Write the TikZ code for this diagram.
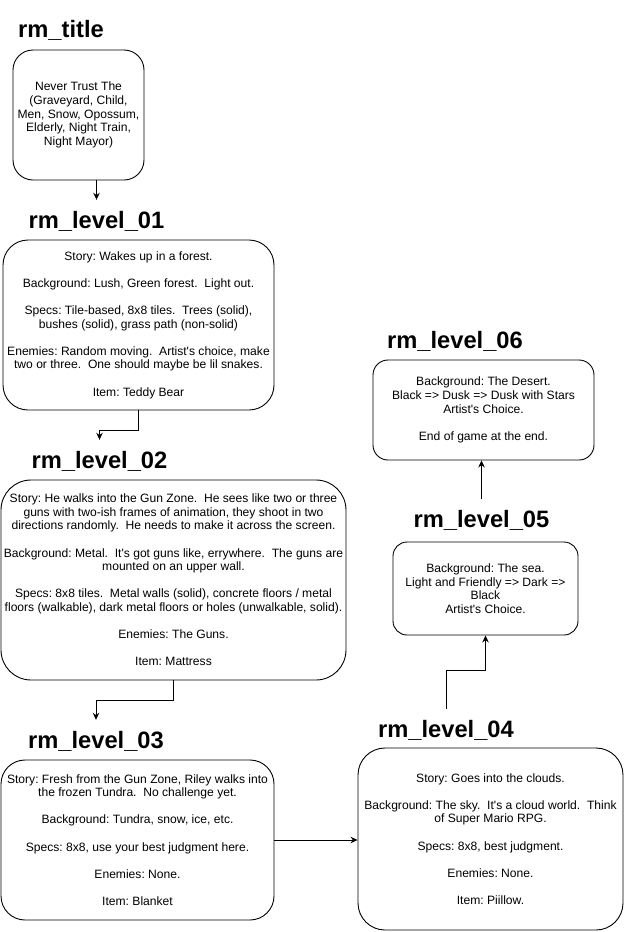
\documentclass[tikz,border=0pt]{standalone}
\usepackage{fontspec}
\newfontfamily\bodyfont{Liberation Sans}
\usetikzlibrary{arrows.meta,calc}
\tikzset{
  room/.style={draw=black, line width=0.9pt, align=center, inner sep=0pt, text=black,
    font=\bodyfont\frenchspacing\fontsize{12.1}{13.6}\selectfont},
  heading/.style={font=\bodyfont\bfseries\fontsize{23.7}{26}\selectfont, inner sep=0pt,
    minimum height=42pt, text=black},
  conn/.style={draw=black, line width=0.9pt, -{Stealth[length=7pt,width=6.5pt]}},
}
\newcommand{\bl}{\\[13.6pt]}
\begin{document}
\begin{tikzpicture}[x=1pt,y=-1pt]
\useasboundingbox (0,0) rectangle (624,932);
\fill[white] (0,0) rectangle (624,932);

% headings
\node[heading] (h0) at (61,30) {rm\_title};
\node[heading] (h1) at (96.5,221) {rm\_level\_01};
\node[heading] (h2) at (99.5,461) {rm\_level\_02};
\node[heading] (h3) at (96,741) {rm\_level\_03};
\node[heading] (h4) at (446,730) {rm\_level\_04};
\node[heading] (h5) at (481.5,520) {rm\_level\_05};
\node[heading] (h6) at (455,341) {rm\_level\_06};

% boxes
\node[room, minimum width=131pt, minimum height=130pt, rounded corners=20pt] (title) at (78.5,115)
  {Never Trust The\\(Graveyard, Child,\\Men, Snow, Opossum,\\Elderly, Night Train,\\Night Mayor)};

\node[room, minimum width=271pt, minimum height=170pt, rounded corners=25pt] (L1) at (138.5,325)
  {Story: Wakes up in a forest.\bl
   Background: Lush, Green forest.~~Light out.\bl
   Specs: Tile-based, 8x8 tiles.~~Trees (solid),\\bushes (solid), grass path (non-solid)\bl
   Enemies: Random moving.~~Artist's choice, make\\two or three.~~One should maybe be lil snakes.\bl
   Item: Teddy Bear};

\node[room, minimum width=345pt, minimum height=200pt, rounded corners=30pt] (L2) at (173.5,580)
  {Story: He walks into the Gun Zone.~~He sees like two or three\\guns with two-ish frames of animation, they shoot in two\\directions randomly.~~He needs to make it across the screen.\bl
   Background: Metal.~~It's got guns like, errywhere.~~The guns are\\mounted on an upper wall.\bl
   Specs: 8x8 tiles.~~Metal walls (solid), concrete floors / metal\\floors (walkable), dark metal floors or holes (unwalkable, solid).\bl
   Enemies: The Guns.\bl
   Item: Mattress};

\node[room, minimum width=273pt, minimum height=160pt, rounded corners=24pt] (L3) at (137.5,840)
  {Story: Fresh from the Gun Zone, Riley walks into\\the frozen Tundra.~~No challenge yet.\bl
   Background: Tundra, snow, ice, etc.\bl
   Specs: 8x8, use your best judgment here.\bl
   Enemies: None.\bl
   Item: Blanket};

\node[room, minimum width=265pt, minimum height=182pt, rounded corners=27pt] (L4) at (490.5,839)
  {Story: Goes into the clouds.\bl
   Background: The sky.~~It's a cloud world.~~Think\\of Super Mario RPG.\bl
   Specs: 8x8, best judgment.\bl
   Enemies: None.\bl
   Item: Piillow.};

\node[room, minimum width=185pt, minimum height=93pt, rounded corners=14pt] (L5) at (485.5,588.5)
  {Background: The sea.\\Light and Friendly => Dark =>\\Black\\Artist's Choice.};

\node[room, minimum width=221pt, minimum height=100pt, rounded corners=15pt] (L6) at (483.5,410)
  {Background: The Desert.\\Black => Dusk => Dusk with Stars\\Artist's Choice.\bl
   End of game at the end.};

% connectors
\draw[conn] (title.south -| h1.north) -- (h1.north);
\draw[conn] (L1.south) -- ++(0,20) -| (h2.north);
\draw[conn] (L2.south) -- ++(0,20) -| (h3.north);
\draw[conn] (L3.east) -- (L3.east -| L4.west);
\draw[conn] (h4.north) -- ++(0,-38) -| (L5.south);
\draw[conn] (h5.north) -- (h5.north |- L6.south);
\end{tikzpicture}
\end{document}
